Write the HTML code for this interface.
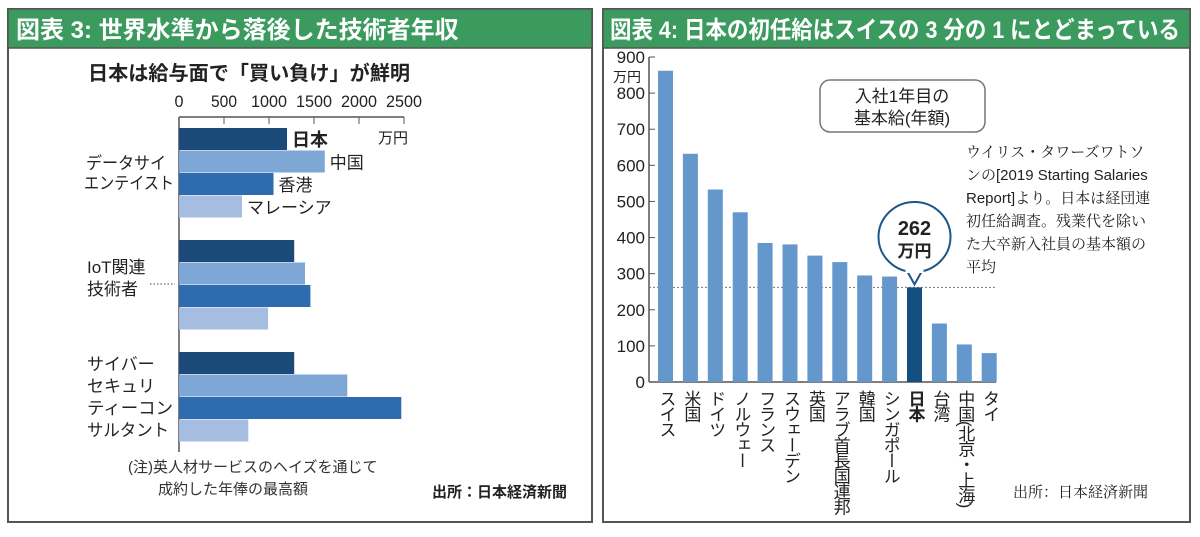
<!DOCTYPE html>
<html><head><meta charset="utf-8"><style>
body{margin:0;background:#fff;width:1200px;height:532px;overflow:hidden;font-family:"Liberation Sans","Noto Sans CJK JP",sans-serif}
svg text{font-family:"Liberation Sans","Noto Sans CJK JP",sans-serif}
svg text.serif{font-family:"Liberation Serif","Noto Serif CJK SC",serif}
</style></head><body>
<svg id="s" width="1200" height="532" viewBox="0 0 1200 532">
<g>
<rect x="8" y="9" width="584" height="513" fill="#fff" stroke="#555" stroke-width="2"/>
<rect x="8" y="9" width="584" height="39" fill="#3b9a5d" stroke="#555" stroke-width="1.5"/>
<text x="16" y="38" fill="#fff" font-size="24" font-weight="bold">図表 3: 世界水準から落後した技術者年収</text>
<text x="88" y="80" font-size="20" font-weight="bold" fill="#222" textLength="322" lengthAdjust="spacingAndGlyphs">日本は給与面で「買い負け」が鮮明</text>
<g id="lchart"></g>
<text x="378" y="143" font-size="15" fill="#222">万円</text>
<text x="86" y="169" font-size="17" fill="#222" textLength="80" lengthAdjust="spacingAndGlyphs">データサイ</text>
<text x="84" y="189" font-size="17" fill="#222" textLength="90" lengthAdjust="spacingAndGlyphs">エンテイスト</text>
<text x="87" y="273" font-size="17" fill="#222">IoT関連</text>
<text x="87" y="295" font-size="17" fill="#222">技術者</text>
<line x1="150" y1="284" x2="175" y2="284" stroke="#444" stroke-dasharray="1.5,2"/>
<text x="87" y="370" font-size="17" fill="#222">サイバー</text>
<text x="87" y="392" font-size="17" fill="#222">セキュリ</text>
<text x="87" y="414" font-size="17" fill="#222" textLength="86" lengthAdjust="spacingAndGlyphs">ティーコン</text>
<text x="87" y="436" font-size="17" fill="#222" textLength="82" lengthAdjust="spacingAndGlyphs">サルタント</text>
<text x="128" y="472" font-size="15" fill="#333">(注)英人材サービスのヘイズを通じて</text>
<text x="158" y="494" font-size="15" fill="#333">成約した年俸の最高額</text>
<text x="432" y="497" font-size="15" font-weight="bold" fill="#222">出所：日本経済新聞</text>
</g>
<g>
<rect x="603" y="9" width="587" height="513" fill="#fff" stroke="#555" stroke-width="2"/>
<rect x="603" y="9" width="587" height="39" fill="#3b9a5d" stroke="#555" stroke-width="1.5"/>
<text x="610" y="38" fill="#fff" font-size="24" font-weight="bold" textLength="570" lengthAdjust="spacingAndGlyphs">図表 4: 日本の初任給はスイスの 3 分の 1 にとどまっている</text>
<g id="rchart"></g>
<text x="613" y="82" font-size="14" fill="#222">万円</text>
<rect x="820" y="80" width="165" height="52" rx="10" fill="#fff" stroke="#777" stroke-width="1.5"/>
<text x="902" y="102" font-size="17" fill="#222" text-anchor="middle">入社1年目の</text>
<text x="902" y="124" font-size="17" fill="#222" text-anchor="middle">基本給(年額)</text>
<text class="serif" x="966" y="157" font-size="15" fill="#222">ウイリス・タワーズワトソ</text>
<text class="serif" x="966" y="180" font-size="15" fill="#222">ンの<tspan style="font-family:'Liberation Sans',sans-serif">[2019 Starting Salaries</tspan></text>
<text class="serif" x="966" y="203" font-size="15" fill="#222"><tspan style="font-family:'Liberation Sans',sans-serif">Report]</tspan>より。日本は経団連</text>
<text class="serif" x="966" y="226" font-size="15" fill="#222">初任給調査。残業代を除い</text>
<text class="serif" x="966" y="249" font-size="15" fill="#222">た大卒新入社員の基本額の</text>
<text class="serif" x="966" y="272" font-size="15" fill="#222">平均</text>
<text class="serif" x="1013" y="497" font-size="15" fill="#222">出所：日本経済新聞</text>
</g>
</svg>
<script>
const NS='http://www.w3.org/2000/svg';
// left chart data
const lCategories=['データサイエンティスト','IoT関連技術者','サイバーセキュリティーコンサルタント'];
const lSeries=['日本','中国','香港','マレーシア'];
const lValues=[[1200,1620,1050,700],[1280,1400,1460,990],[1280,1870,2470,770]];
const lTicks=[0,500,1000,1500,2000,2500];
// right chart data
const rCategories=['スイス','米国','ドイツ','ノルウェー','フランス','スウェーデン','英国','アラブ首長国連邦','韓国','シンガポール','日本','台湾','中国(北京・上海)','タイ'];
const rValues=[862,632,533,470,385,381,350,332,295,292,262,162,104,80];
const rTicks=[0,100,200,300,400,500,600,700,800,900];

function mk(t,a,p,txt){const e=document.createElementNS(NS,t);for(const k in a)e.setAttribute(k,a[k]);if(txt!=null)e.textContent=txt;p.appendChild(e);return e;}
// left
const L=document.getElementById('lchart');
const lx=v=>179+v*(225/2500);
const lColors=['#1c4a78','#7fa7d5','#2e6cb0','#a5bde0'];
const gTop=[128,240,352];
mk('line',{x1:179,y1:117,x2:404,y2:117,stroke:'#555','stroke-width':1.5},L);
mk('line',{x1:179,y1:117,x2:179,y2:452,stroke:'#555','stroke-width':1.5},L);
lTicks.forEach(t=>{
  const tk=mk('line',{x1:lx(t),y1:117,x2:lx(t),y2:124,stroke:'#555'},L);
  
  
  const tl=mk('text',{x:lx(t),y:107,'font-size':17,'text-anchor':'middle',fill:'#222',textLength:t>=1000?36:(t>0?26:9),lengthAdjust:'spacingAndGlyphs'},L,String(t));
  
  
});
lValues.forEach((vals,gi)=>{
  vals.forEach((v,si)=>{
    const y=gTop[gi]+si*22.5;
    const r=mk('rect',{x:179,y:y,width:lx(v)-179,height:22,fill:lColors[si]},L);
    
    
    if(gi===0){
      const t=mk('text',{x:lx(v)+5,y:y+18,'font-size':si===0?18:17,'font-weight':si===0?'bold':'normal',fill:'#222'},L,lSeries[si]);
      
      
    }
  });
});
// right
const R=document.getElementById('rchart');
const ry=v=>382-v*(325/900);
const rx=i=>658+i*24.9;
mk('line',{x1:649,y1:ry(900),x2:649,y2:382,stroke:'#555','stroke-width':1.5},R);
mk('line',{x1:649,y1:382,x2:996,y2:382,stroke:'#555','stroke-width':1.5},R);
rTicks.forEach(t=>{
  mk('line',{x1:649,y1:ry(t),x2:655,y2:ry(t),stroke:'#555'},R);
  const tl=mk('text',{x:645,y:ry(t)+6,'font-size':17,'text-anchor':'end',fill:'#222'},R,String(t));
  
  
});
const ji=rCategories.indexOf('日本');
const ref=mk('line',{x1:649,y1:ry(rValues[ji]),x2:996,y2:ry(rValues[ji]),stroke:'#777','stroke-dasharray':'2,2'},R);


rValues.forEach((v,i)=>{
  const b=mk('rect',{x:rx(i),y:ry(v),width:15,height:382-ry(v),fill:i===ji?'#154f82':'#6497cc'},R);
  
  
  const t=mk('text',{x:rx(i)+8,y:390,'font-size':17,fill:'#222','writing-mode':'vertical-rl','font-weight':i===ji?'bold':'normal','letter-spacing':'-1.5'},R,rCategories[i]);
  
  
});
// bubble
const bx=rx(ji)+7.5, by=237;
const bub=mk('path',{d:`M ${bx-8} ${by+33} L ${bx} ${ry(rValues[ji])-3} L ${bx+8} ${by+33}`,fill:'#fff',stroke:'#1d5789','stroke-width':2},R);


const c=mk('ellipse',{cx:bx,cy:by,rx:36,ry:35,fill:'#fff',stroke:'#1d5789','stroke-width':2},R);


mk('rect',{x:bx-9,y:by+30,width:18,height:6,fill:'#fff'},R);
mk('text',{x:bx,y:by-2,'font-size':20,'font-weight':'bold','text-anchor':'middle',fill:'#222'},R,String(rValues[ji]));
mk('text',{x:bx,y:by+20,'font-size':17,'font-weight':'bold','text-anchor':'middle',fill:'#222'},R,'万円');
</script>
</body></html>
